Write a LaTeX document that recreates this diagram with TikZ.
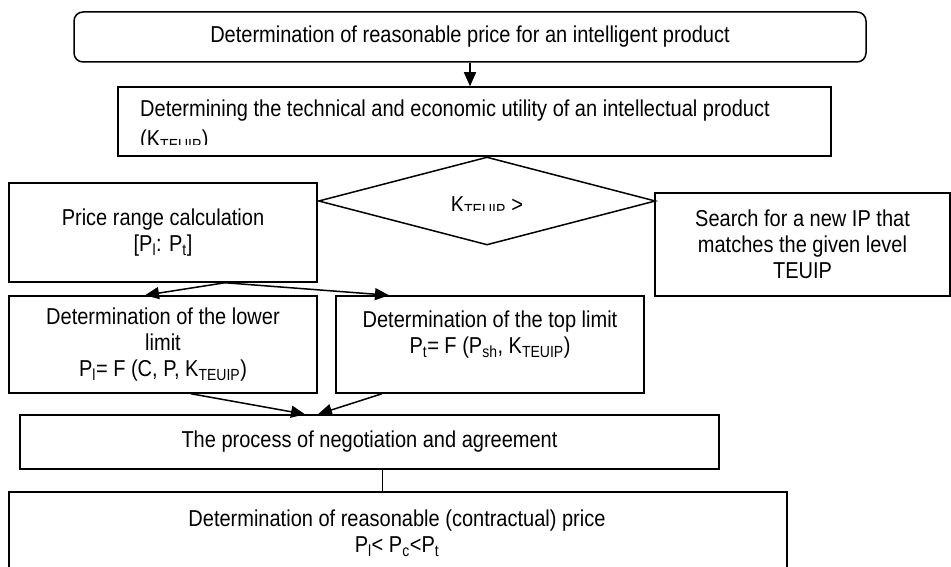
\documentclass[tikz,border=0pt]{standalone}
\usepackage{fontspec}
\setmainfont[FakeStretch=0.87]{Liberation Sans}
\usetikzlibrary{arrows.meta,shapes.geometric}

\tikzset{
  blk/.style={draw, line width=1.5pt, inner sep=0pt, align=center},
  txt/.style={inner sep=0pt, align=center},
  arr/.style={line width=1.5pt, -{Triangle[length=14pt,width=12pt]}},
}
\newcommand{\sbs}[1]{\textsubscript{#1}}

\begin{document}
\begin{tikzpicture}[x=1pt,y=-1pt,font=\fontsize{23}{26}\selectfont]
\clip (0,0) rectangle (951,567);

\node[blk, rounded corners=9pt, minimum width=792pt, minimum height=50pt] (goal) at (470,37)
  {Determination of reasonable price for an intelligent product};
\node[blk, minimum width=713pt, minimum height=69pt] (util) at (474.5,121.5) {};
\begin{scope}
  \clip (118,87) rectangle (831,145);
  \node[txt, anchor=base west] (utiltxt) at (140,117)
    {Determining the technical and economic utility of an intellectual product};
  \node[txt, anchor=base west] (utilk) at (140,147) {(K\sbs{TEUIP})};
\end{scope}

\node[draw, line width=1.5pt, shape=diamond, inner sep=0pt,
      minimum width=337pt, minimum height=88pt] (cond) at (487,201) {};
\begin{scope}
  \clip (400,180) rectangle (580,210);
  \node[txt, anchor=base] (condtxt) at (487,212) {K\sbs{TEUIP} >};
\end{scope}

\node[blk, minimum width=308pt, minimum height=99pt] (range) at (163,232.5)
  {Price range calculation\\{}[P\sbs{l}: P\sbs{t}]};
\node[blk, minimum width=295pt, minimum height=103pt] (search) at (802.5,244.5)
  {Search for a new IP that\\matches the given level\\TEUIP};

\node[blk, minimum width=308pt, minimum height=97pt] (low) at (163,344.5)
  {Determination of the lower\\limit\\P\sbs{l}= F (C, P, K\sbs{TEUIP})};
\node[blk, minimum width=308pt, minimum height=97pt] (upp) at (490,344.5) {};
\node[txt] (upptxt) at (490,335)
  {Determination of the top limit\\P\sbs{t}= F (P\sbs{sh}, K\sbs{TEUIP})};

\node[blk, minimum width=699pt, minimum height=54pt] (talk) at (369.5,442)
  {The process of negotiation and agreement};
\node[blk, minimum width=778pt, minimum height=100pt] (fin) at (398,542) {};
\node[txt] (fintxt) at (397,533)
  {Determination of reasonable (contractual) price\\P\sbs{l}< P\sbs{c}<P\sbs{t}};

% connectors
\draw[arr] (goal.south) -- (goal.south |- util.north);
\draw[arr] ([xshift=62pt]range.south) -- ([xshift=-18pt]low.north);
\draw[arr] ([xshift=62pt]range.south) -- ([xshift=-101pt]upp.north);
\draw[arr] ([xshift=28pt]low.south) -- ([xshift=-64.5pt]talk.north);
\draw[arr] ([xshift=-108pt]upp.south) -- ([xshift=-51.5pt]talk.north);
\draw[line width=0.8pt] ([xshift=12.5pt]talk.south) -- ([xshift=-16pt]fin.north);
\end{tikzpicture}
\end{document}
